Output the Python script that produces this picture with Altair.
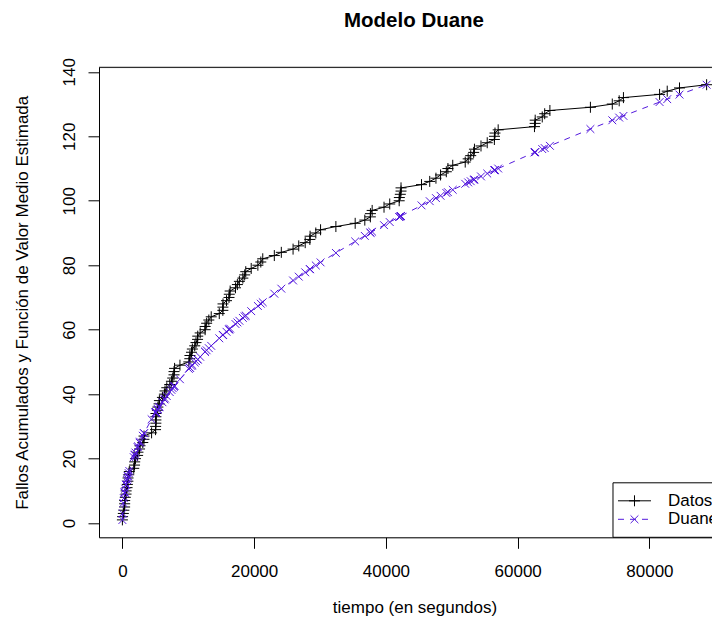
import altair as alt
import pandas as pd
import numpy as np

# Musa SYS1: tiempos entre fallos (segundos)
gaps = [3, 30, 113, 81, 115, 9, 2, 91, 112, 15, 138, 50, 77, 24, 108, 88, 670, 120, 26, 114,
        325, 55, 242, 68, 422, 180, 10, 1146, 600, 15, 36, 4, 0, 8, 227, 65, 176, 58, 457, 300,
        97, 263, 452, 255, 197, 193, 6, 79, 816, 1351, 148, 21, 233, 134, 357, 193, 236, 31, 369, 748,
        0, 232, 330, 365, 1222, 543, 10, 16, 529, 379, 44, 129, 810, 290, 300, 529, 281, 160, 828, 1011,
        445, 296, 1755, 1064, 1783, 860, 983, 707, 33, 868, 724, 2323, 2930, 1461, 843, 12, 261, 1800, 865, 1435,
        30, 143, 108, 0, 3110, 1247, 943, 700, 875, 245, 729, 1897, 447, 386, 446, 122, 990, 948, 1082, 22,
        75, 482, 5509, 100, 10, 1071, 371, 790, 6150, 3321, 1045, 648, 5485, 1160, 1864, 4116]

# Función de valor medio estimada (modelo Duane) en cada tiempo de fallo
duane = [0.96, 3.05, 6.24, 7.72, 9.40, 9.52, 9.54, 10.65, 11.87, 12.02, 13.34, 13.79, 14.44, 14.64, 15.50, 16.16, 20.46,
         21.14, 21.28, 21.89, 23.55, 23.82, 24.96, 25.27, 27.11, 27.86, 27.90, 32.21, 34.24, 34.29, 34.40, 34.42, 34.42, 34.44,
         35.17, 35.38, 35.93, 36.11, 37.49, 38.37, 38.65, 39.40, 40.64, 41.33, 41.85, 42.36, 42.37, 42.58, 44.63, 47.83, 48.16,
         48.21, 48.73, 49.03, 49.82, 50.24, 50.74, 50.81, 51.59, 53.14, 53.14, 53.61, 54.27, 54.99, 57.33, 58.34, 58.36, 58.39,
         59.35, 60.03, 60.11, 60.34, 61.76, 62.26, 62.77, 63.66, 64.13, 64.39, 65.75, 67.36, 68.06, 68.52, 71.17, 72.73, 75.27,
         76.46, 77.80, 78.74, 78.79, 79.93, 80.88, 83.82, 87.38, 89.10, 90.08, 90.09, 90.39, 92.43, 93.39, 94.96, 95.00, 95.15,
         95.27, 95.27, 98.57, 99.87, 100.83, 101.54, 102.42, 102.67, 103.39, 105.26, 105.69, 106.06, 106.49, 106.61, 107.55, 108.45, 109.46,
         109.48, 109.55, 110.00, 114.99, 115.08, 115.08, 116.03, 116.35, 117.04, 122.25, 124.96, 125.80, 126.32, 130.62, 131.51, 132.93, 136.00]

x_ticks = [0, 20000, 40000, 60000, 80000]
y_ticks = [0, 20, 40, 60, 80, 100, 120, 140]
legend_labels = ["Datos", "Duane"]

tiempo = np.cumsum(gaps).tolist()
fallos = list(range(1, len(gaps) + 1))
df = pd.DataFrame({"tiempo": tiempo, "fallos": fallos, "duane": duane})
one = pd.DataFrame({"k": [0]})

W, H = 613, 470
FONT = "Liberation Sans"
BLUE = "#5218DC"
PLUS = "M-1,0L1,0M0,-1L0,1"
CROSS = "M-1,-1L1,1M-1,1L1,-1"

xs = alt.Scale(domain=[-3547.28, 89497.6], nice=False, zero=False)
ys = alt.Scale(domain=[-4.4, 141.4], nice=False, zero=False)

xaxis = alt.Axis(values=x_ticks, format="d", title="tiempo (en segundos)", grid=False,
                 domain=True, domainColor="black", domainWidth=1,
                 ticks=True, tickColor="black", tickSize=11, tickWidth=1,
                 labelFont=FONT, labelFontSize=17, labelColor="black", labelPadding=15,
                 labelFlush=False, labelOverlap=False,
                 titleFont=FONT, titleFontSize=17, titleFontWeight="normal", titleColor="black",
                 titleX=315.5, titleY=75.5, titleAlign="center", titleBaseline="alphabetic")
yaxis = alt.Axis(values=y_ticks, format="d", title="Fallos Acumulados y Función de Valor Medio Estimada",
                 grid=False, domain=True, domainColor="black", domainWidth=1,
                 ticks=True, tickColor="black", tickSize=11, tickWidth=1,
                 labelFont=FONT, labelFontSize=17, labelColor="black", labelPadding=14,
                 labelAngle=270, labelAlign="center", labelBaseline="alphabetic",
                 labelFlush=False, labelOverlap=False,
                 titleFont=FONT, titleFontSize=17, titleFontWeight="normal", titleColor="black",
                 titleAngle=270, titleX=-72, titleY=235, titleAlign="center", titleBaseline="alphabetic")

base = alt.Chart(df)
X = alt.X("tiempo:Q", scale=xs, axis=xaxis)

datos_line = base.mark_line(color="black", strokeWidth=1).encode(
    x=X, y=alt.Y("fallos:Q", scale=ys, axis=yaxis), order="fallos:Q")
datos_pts = base.mark_point(shape=PLUS, size=121, filled=False, color="black",
                            strokeWidth=1, opacity=1).encode(
    x=X, y=alt.Y("fallos:Q", scale=ys, axis=yaxis))
duane_line = base.mark_line(color=BLUE, strokeWidth=1, strokeDash=[6, 6]).encode(
    x=X, y=alt.Y("duane:Q", scale=ys, axis=yaxis), order="fallos:Q")
duane_pts = base.mark_point(shape=CROSS, size=61, filled=False, color=BLUE,
                            strokeWidth=1, opacity=1).encode(
    x=X, y=alt.Y("duane:Q", scale=ys, axis=yaxis))

top_line = alt.Chart(one).mark_rule(color="black", strokeWidth=1).encode(
    x=alt.value(0), x2=alt.value(W), y=alt.value(0))

# leyenda
lg = alt.Chart(one)
lg_box = lg.mark_rect(fill="white", stroke="black", strokeWidth=1).encode(
    x=alt.value(514), x2=alt.value(660), y=alt.value(415.5), y2=alt.value(470))
lg_l1 = lg.mark_rule(color="black", strokeWidth=1).encode(
    x=alt.value(519), x2=alt.value(552), y=alt.value(433.5))
lg_p1 = lg.mark_point(shape=PLUS, size=121, filled=False, color="black", strokeWidth=1, opacity=1).encode(
    x=alt.value(535.5), y=alt.value(433.5))
lg_t1 = lg.mark_text(align="left", baseline="middle", font=FONT, fontSize=17, color="black").encode(
    x=alt.value(569), y=alt.value(433.5), text=alt.value(legend_labels[0]))
lg_l2 = lg.mark_rule(color=BLUE, strokeWidth=1, strokeDash=[6, 6]).encode(
    x=alt.value(519), x2=alt.value(552), y=alt.value(452))
lg_p2 = lg.mark_point(shape=CROSS, size=61, filled=False, color=BLUE, strokeWidth=1, opacity=1).encode(
    x=alt.value(535.5), y=alt.value(452))
lg_t2 = lg.mark_text(align="left", baseline="middle", font=FONT, fontSize=17, color="black").encode(
    x=alt.value(569), y=alt.value(452), text=alt.value(legend_labels[1]))

chart = alt.layer(
    datos_line, datos_pts, duane_line, duane_pts, top_line,
    lg_box, lg_l1, lg_p1, lg_t1, lg_l2, lg_p2, lg_t2
).properties(
    width=W, height=H,
    title=alt.TitleParams("Modelo Duane", font=FONT, fontSize=20.5, fontWeight="bold",
                          color="black", anchor="middle", dx=8.5, offset=10.5, baseline="alphabetic"),
    autosize=alt.AutoSizeParams(type="none"),
    padding={"left": 91, "top": 59.3, "right": 0, "bottom": 79},
).configure_view(stroke=None).configure(background="white")

chart.save("out.html", embed_options={"renderer": "svg", "actions": False})
